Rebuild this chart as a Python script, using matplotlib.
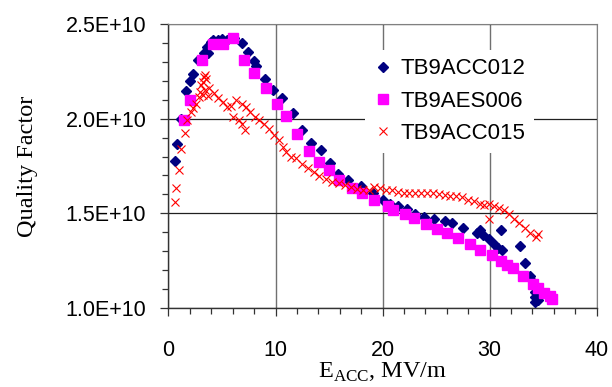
import matplotlib
matplotlib.use("Agg")
import matplotlib.pyplot as plt
from matplotlib.ticker import MultipleLocator, FuncFormatter

# TB9ACC012 (navy diamonds), E_acc in MV/m, Q in units of 1E9
acc012_e = [0.62, 0.84, 1.2, 1.68, 2.0, 2.3, 2.77, 3.28, 3.57, 3.68, 3.93, 4.2, 4.66,
            5.0, 5.46, 6.1, 6.85, 7.43, 8.0, 8.2, 9.0, 9.76, 10.6, 11.65, 12.5, 13.3,
            14.2, 15.1, 15.8, 16.8, 17.96, 19.1, 20.07, 20.7, 21.4, 22.3, 23.0, 23.9,
            24.8, 25.8, 26.45, 27.5, 28.8, 29.1, 29.4, 29.9, 30.45, 30.8, 31.2, 31.1,
            32.8, 33.3, 33.8, 34.06, 34.25, 34.25, 34.2, 34.5]
acc012_q = [17.77, 18.65, 20.0, 21.47, 21.98, 22.35, 23.08, 23.45, 23.8, 23.45, 24.07,
            24.15, 24.15, 24.2, 24.15, 24.24, 23.98, 23.5, 23.04, 22.8, 22.09, 21.54,
            21.07, 20.3, 19.4, 18.72, 18.33, 17.68, 17.1, 16.75, 16.43, 16.08, 15.69,
            15.48, 15.37, 15.25, 14.98, 14.8, 14.68, 14.6, 14.49, 14.22, 13.96, 14.1,
            13.84, 13.66, 13.36, 13.18, 13.04, 14.14, 13.3, 12.37, 11.67, 11.37, 10.84,
            10.57, 10.3, 10.4]

# TB9AES006 (magenta squares)
aes006_e = [1.46, 2.04, 3.1, 4.19, 5.1, 6.05, 7.07, 8.0, 9.1, 10.1, 11.0, 12.0, 13.1,
            14.06, 15.0, 15.96, 17.16, 18.07, 19.16, 20.5, 21.0, 22.1, 22.9, 24.1, 25.1,
            26.0, 27.0, 28.2, 29.1, 30.2, 31.1, 31.6, 32.2, 33.1, 34.06, 34.5, 35.1,
            35.6, 35.8]
aes006_q = [19.92, 21.01, 23.1, 23.94, 23.94, 24.24, 23.1, 22.39, 21.6, 20.8, 20.13,
            19.2, 18.3, 17.7, 17.31, 16.75, 16.34, 16.08, 15.69, 15.37, 15.2, 14.98,
            14.77, 14.45, 14.19, 13.98, 13.7, 13.36, 13.08, 12.78, 12.48, 12.25, 12.1,
            11.67, 11.28, 11.07, 10.78, 10.66, 10.49]

# TB9ACC015 (red crosses)
acc015_e = [0.58, 0.73, 0.95, 1.2, 1.57, 1.75, 2.1, 2.3, 2.59, 2.84, 2.95, 3.02, 3.2,
            3.28, 3.39, 3.5, 3.2, 3.42, 3.68, 3.83, 4.23, 4.66, 5.1, 5.46, 5.83, 6.0,
            6.3, 6.56, 6.85, 6.85, 7.14, 7.21, 7.58, 8.05, 8.49, 8.96, 9.4, 9.87, 10.3,
            10.67, 11.0, 11.4, 11.95, 12.5, 13.04, 13.6, 14.1, 14.7, 15.3, 15.9, 16.5,
            17.05, 17.6, 18.14, 18.7, 19.2, 19.8, 20.3, 20.9, 21.4, 21.97, 22.5, 23.06,
            23.6, 24.15, 24.7, 25.25, 25.8, 26.3, 26.9, 27.4, 27.97, 28.5, 29.07, 29.5,
            29.98, 29.98, 30.45, 30.9, 31.3, 31.8, 32.3, 32.7, 33.26, 33.8, 34.3, 34.5]
acc015_q = [15.6, 16.34, 17.3, 18.42, 19.27, 19.92, 20.36, 20.54, 20.8, 21.16, 21.42,
            21.77, 21.95, 22.2, 22.3, 22.12, 21.24, 21.5, 21.19, 21.6, 21.37, 21.07,
            20.89, 20.63, 20.66, 20.1, 21.0, 19.92, 20.77, 19.74, 19.39, 20.63, 20.36,
            20.1, 19.92, 19.71, 19.43, 19.13, 18.86, 18.51, 18.25, 18.0, 17.9, 17.6,
            17.4, 17.2, 16.97, 16.83, 16.66, 16.6, 16.48, 16.4, 16.3, 16.22, 16.25,
            16.4, 16.36, 16.25, 16.22, 16.13, 16.08, 16.1, 16.1, 16.08, 16.08, 16.08,
            16.0, 15.95, 15.9, 15.9, 15.86, 15.72, 15.63, 15.51, 15.42, 15.51, 14.72,
            15.37, 15.3, 15.16, 14.98, 14.72, 14.49, 14.22, 13.96, 13.75, 13.92]

labels = ["TB9ACC012", "TB9AES006", "TB9ACC015"]

sans = "Liberation Sans"
serif = "Liberation Serif"

fig = plt.figure(figsize=(6.12, 3.87), dpi=100)
ax = fig.add_axes([0.2753, 0.204, 0.6997, 0.734])

ax.plot(acc012_e, [q * 1e9 for q in acc012_q], linestyle="none", marker="D",
        markersize=4.6, color="#000080", label=labels[0], zorder=3)
ax.plot(aes006_e, [q * 1e9 for q in aes006_q], linestyle="none", marker="s",
        markersize=6.5, color="#FF00FF", label=labels[1], zorder=3)
ax.plot(acc015_e, [q * 1e9 for q in acc015_q], linestyle="none", marker="x",
        markersize=6, markeredgewidth=0.8, color="#FF0000", label=labels[2], zorder=4)

ax.set_xlim(0, 40)
ax.set_ylim(1.0e10, 2.5e10)
ax.xaxis.set_major_locator(MultipleLocator(10))
ax.xaxis.set_minor_locator(MultipleLocator(2))
ax.yaxis.set_major_locator(MultipleLocator(0.5e10))
ax.yaxis.set_minor_locator(MultipleLocator(0.1e10))
ax.yaxis.set_major_formatter(FuncFormatter(lambda v, p: f"{v:.1E}"))

ax.set_axisbelow(True)
ax.xaxis.grid(True, which="major", color="#707070", linewidth=1.0)
ax.yaxis.grid(True, which="major", color="#202020", linewidth=0.9)

for side in ["top", "right"]:
    ax.spines[side].set_color("#808080")
for side in ["left", "bottom"]:
    ax.spines[side].set_color("#333333")
    ax.spines[side].set_linewidth(1.0)

ax.tick_params(which="major", direction="out", length=6, width=0.9, color="#333333")
ax.tick_params(which="minor", direction="out", length=4.5, width=0.9, color="#333333")
ax.tick_params(axis="x", which="major", pad=17)
ax.tick_params(axis="y", which="major", pad=10)
for lab in ax.get_xticklabels() + ax.get_yticklabels():
    lab.set_fontfamily(sans)
    lab.set_fontsize(15.5)

ax.set_xlabel(r"E$_{\mathregular{ACC}}$, MV/m", fontfamily=serif, fontsize=17.5, labelpad=0)
ax.set_ylabel("Quality Factor", fontfamily=serif, fontsize=17.5, labelpad=20)

leg = ax.legend(loc="upper left", bbox_to_anchor=(0.459, 0.91), prop={"family": sans, "size": 16},
                frameon=True, facecolor="white", edgecolor="none", framealpha=1.0,
                fancybox=False, borderpad=0.4, handlelength=0.8, handletextpad=0.4,
                labelspacing=0.5, borderaxespad=0, numpoints=1)
leg.set_zorder(5)

fig.savefig("out.png", dpi=100)
